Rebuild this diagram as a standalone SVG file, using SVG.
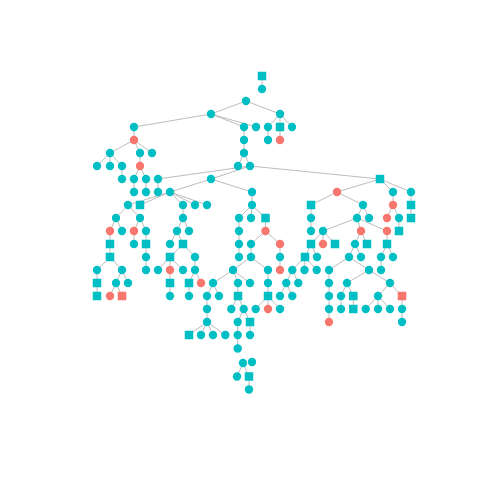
<svg xmlns="http://www.w3.org/2000/svg" xmlns:xlink="http://www.w3.org/1999/xlink" width="480" height="480" viewBox="0 0 480 480">
<defs>
<style>
.e line{stroke:#BDBDBD;stroke-width:1;fill:none}
.t{fill:#00BFC4}
.r{fill:#F8766D}
</style>
<circle id="c" r="4.2"/>
<rect id="s" x="-4.25" y="-4.25" width="8.5" height="8.5"/>
</defs>
<rect width="480" height="480" fill="#FFFFFF"/>
<g id="edges" class="e">
<line x1="262" y1="76" x2="262" y2="89"/>
<line x1="246" y1="101" x2="211" y2="114"/><line x1="246" y1="101" x2="280" y2="114"/>
<line x1="211" y1="114" x2="134" y2="127"/><line x1="211" y1="114" x2="244" y2="127"/><line x1="211" y1="114" x2="256" y2="127"/>
<line x1="280" y1="114" x2="268" y2="127"/><line x1="280" y1="114" x2="280" y2="127"/><line x1="280" y1="114" x2="292" y2="127"/>
<line x1="134" y1="127" x2="134" y2="140"/><line x1="244" y1="127" x2="244" y2="140"/><line x1="268" y1="127" x2="268" y2="140"/><line x1="280" y1="127" x2="280" y2="140"/>
<line x1="134" y1="140" x2="110" y2="153"/><line x1="134" y1="140" x2="140" y2="153"/><line x1="134" y1="140" x2="152" y2="153"/>
<line x1="244" y1="140" x2="244" y2="153"/>
<line x1="110" y1="153" x2="97" y2="166"/><line x1="110" y1="153" x2="110" y2="166"/><line x1="110" y1="153" x2="122" y2="166"/>
<line x1="140" y1="153" x2="140" y2="166"/>
<line x1="244" y1="153" x2="238" y2="166"/><line x1="244" y1="153" x2="250" y2="166"/>
<line x1="122" y1="166" x2="122" y2="179"/>
<line x1="140" y1="166" x2="134" y2="179"/><line x1="140" y1="166" x2="146" y2="179"/>
<line x1="250" y1="166" x2="158" y2="179"/><line x1="250" y1="166" x2="211" y2="179"/><line x1="250" y1="166" x2="380" y2="179"/>
<line x1="134" y1="179" x2="134" y2="192"/><line x1="146" y1="179" x2="146" y2="192"/><line x1="158" y1="179" x2="158" y2="192"/>
<line x1="211" y1="179" x2="170" y2="192"/><line x1="211" y1="179" x2="252" y2="192"/>
<line x1="380" y1="179" x2="337" y2="192"/><line x1="380" y1="179" x2="393" y2="192"/><line x1="380" y1="179" x2="411" y2="192"/>
<line x1="170" y1="192" x2="128" y2="205"/><line x1="170" y1="192" x2="140" y2="205"/><line x1="170" y1="192" x2="183" y2="205"/><line x1="170" y1="192" x2="195" y2="205"/><line x1="170" y1="192" x2="207" y2="205"/>
<line x1="252" y1="192" x2="252" y2="205"/>
<line x1="337" y1="192" x2="311" y2="205"/><line x1="337" y1="192" x2="363" y2="205"/>
<line x1="393" y1="192" x2="393" y2="205"/><line x1="411" y1="192" x2="411" y2="205"/>
<line x1="128" y1="205" x2="116" y2="218"/><line x1="128" y1="205" x2="140" y2="218"/>
<line x1="183" y1="205" x2="183" y2="218"/>
<line x1="252" y1="205" x2="239" y2="218"/><line x1="252" y1="205" x2="251" y2="218"/><line x1="252" y1="205" x2="265.5" y2="218"/>
<line x1="311" y1="205" x2="311" y2="218"/>
<line x1="363" y1="205" x2="357" y2="218"/><line x1="363" y1="205" x2="369" y2="218"/>
<line x1="393" y1="205" x2="387" y2="218"/><line x1="393" y1="205" x2="399" y2="218"/>
<line x1="411" y1="205" x2="411" y2="218"/>
<line x1="116" y1="218" x2="110" y2="231"/><line x1="116" y1="218" x2="122" y2="231"/>
<line x1="140" y1="218" x2="134" y2="231"/><line x1="140" y1="218" x2="146" y2="231"/>
<line x1="183" y1="218" x2="177" y2="231"/><line x1="183" y1="218" x2="189" y2="231"/>
<line x1="239" y1="218" x2="239" y2="231"/><line x1="265.5" y1="218" x2="265.5" y2="231"/><line x1="311" y1="218" x2="311" y2="231"/>
<line x1="357" y1="218" x2="323" y2="231"/><line x1="357" y1="218" x2="361" y2="231"/><line x1="357" y1="218" x2="387" y2="231"/>
<line x1="399" y1="218" x2="399" y2="231"/>
<line x1="110" y1="231" x2="110" y2="244"/><line x1="134" y1="231" x2="134" y2="244"/><line x1="146" y1="231" x2="146" y2="244"/>
<line x1="177" y1="231" x2="170" y2="244"/><line x1="177" y1="231" x2="183" y2="244"/>
<line x1="239" y1="231" x2="239" y2="244"/>
<line x1="265.5" y1="231" x2="251" y2="244"/><line x1="265.5" y1="231" x2="280" y2="244"/>
<line x1="323" y1="231" x2="311" y2="244"/><line x1="323" y1="231" x2="323" y2="244"/><line x1="323" y1="231" x2="335" y2="244"/>
<line x1="361" y1="231" x2="355" y2="244"/><line x1="361" y1="231" x2="367" y2="244"/>
<line x1="387" y1="231" x2="387" y2="244"/>
<line x1="110" y1="244" x2="110" y2="257"/><line x1="146" y1="244" x2="146" y2="257"/>
<line x1="183" y1="244" x2="170" y2="257"/><line x1="183" y1="244" x2="195" y2="257"/>
<line x1="239" y1="244" x2="239" y2="257"/><line x1="251" y1="244" x2="251" y2="257"/><line x1="280" y1="244" x2="280" y2="257"/>
<line x1="311" y1="244" x2="305" y2="257"/><line x1="311" y1="244" x2="317" y2="257"/>
<line x1="355" y1="244" x2="349" y2="257"/><line x1="355" y1="244" x2="361" y2="257"/>
<line x1="387" y1="244" x2="381" y2="257"/><line x1="387" y1="244" x2="393" y2="257"/>
<line x1="110" y1="257" x2="97" y2="270"/><line x1="110" y1="257" x2="122" y2="270"/>
<line x1="146" y1="257" x2="146" y2="270"/>
<line x1="170" y1="257" x2="158" y2="270"/><line x1="170" y1="257" x2="170" y2="270"/><line x1="170" y1="257" x2="183" y2="270"/>
<line x1="195" y1="257" x2="195" y2="270"/>
<line x1="251" y1="257" x2="233" y2="270"/><line x1="251" y1="257" x2="268" y2="270"/>
<line x1="280" y1="257" x2="280" y2="270"/>
<line x1="305" y1="257" x2="292.3" y2="270"/><line x1="305" y1="257" x2="304.5" y2="270"/><line x1="305" y1="257" x2="316.7" y2="270"/>
<line x1="349" y1="257" x2="329" y2="270"/><line x1="349" y1="257" x2="369" y2="270"/>
<line x1="381" y1="257" x2="381" y2="270"/>
<line x1="97" y1="270" x2="97" y2="283"/>
<line x1="122" y1="270" x2="116" y2="283"/><line x1="122" y1="270" x2="128" y2="283"/>
<line x1="170" y1="270" x2="170" y2="283"/>
<line x1="195" y1="270" x2="189" y2="283"/><line x1="195" y1="270" x2="201" y2="283"/>
<line x1="233" y1="270" x2="213" y2="283"/><line x1="233" y1="270" x2="238" y2="283"/><line x1="233" y1="270" x2="250" y2="283"/>
<line x1="268" y1="270" x2="268" y2="283"/>
<line x1="292.3" y1="270" x2="286.3" y2="283"/><line x1="292.3" y1="270" x2="298.3" y2="283"/>
<line x1="329" y1="270" x2="329" y2="283"/>
<line x1="369" y1="270" x2="347" y2="283"/><line x1="369" y1="270" x2="390" y2="283"/>
<line x1="97" y1="283" x2="97" y2="296"/>
<line x1="116" y1="283" x2="110" y2="296"/><line x1="116" y1="283" x2="122" y2="296"/>
<line x1="170" y1="283" x2="170" y2="296"/><line x1="189" y1="283" x2="189" y2="296"/>
<line x1="213" y1="283" x2="207" y2="296"/><line x1="213" y1="283" x2="219" y2="296"/>
<line x1="238" y1="283" x2="238" y2="296"/><line x1="268" y1="283" x2="268" y2="296"/>
<line x1="286.3" y1="283" x2="280" y2="296"/><line x1="286.3" y1="283" x2="292.3" y2="296"/>
<line x1="329" y1="283" x2="329" y2="296"/>
<line x1="347" y1="283" x2="341" y2="296"/><line x1="347" y1="283" x2="353.3" y2="296"/>
<line x1="390" y1="283" x2="378" y2="296"/><line x1="390" y1="283" x2="402" y2="296"/>
<line x1="207" y1="296" x2="207" y2="309"/>
<line x1="238" y1="296" x2="231.3" y2="309"/><line x1="238" y1="296" x2="243.7" y2="309"/>
<line x1="268" y1="296" x2="255.7" y2="309"/><line x1="268" y1="296" x2="268" y2="309"/><line x1="268" y1="296" x2="280" y2="309"/>
<line x1="329" y1="296" x2="329" y2="309"/><line x1="341" y1="296" x2="341" y2="309"/><line x1="353.3" y1="296" x2="353.3" y2="309"/>
<line x1="378" y1="296" x2="365.7" y2="309"/><line x1="378" y1="296" x2="378" y2="309"/><line x1="378" y1="296" x2="390" y2="309"/>
<line x1="402" y1="296" x2="402" y2="309"/>
<line x1="207" y1="309" x2="207" y2="322"/>
<line x1="243.7" y1="309" x2="237.7" y2="322"/><line x1="243.7" y1="309" x2="250" y2="322"/>
<line x1="329" y1="309" x2="329" y2="322"/><line x1="402" y1="309" x2="402" y2="322"/>
<line x1="207" y1="322" x2="189" y2="335"/><line x1="207" y1="322" x2="201" y2="335"/><line x1="207" y1="322" x2="213" y2="335"/><line x1="207" y1="322" x2="225.3" y2="335"/>
<line x1="237.7" y1="322" x2="237.7" y2="335"/><line x1="250" y1="322" x2="250" y2="335"/>
<line x1="237.7" y1="335" x2="237.7" y2="348.5"/>
<line x1="243" y1="363" x2="237" y2="376.5"/><line x1="243" y1="363" x2="249" y2="376.5"/><line x1="249" y1="376.5" x2="249" y2="389.5"/>
</g>
<g id="n1"><use href="#s" x="262" y="76" class="t"/></g>
<g id="n2"><use href="#c" x="262" y="89" class="t"/></g>
<g id="n3"><use href="#c" x="246" y="101" class="t"/></g>
<g id="n4"><use href="#c" x="211" y="114" class="t"/></g>
<g id="n5"><use href="#c" x="280" y="114" class="t"/></g>
<g id="n6"><use href="#c" x="134" y="127" class="t"/></g>
<g id="n7"><use href="#c" x="244" y="127" class="t"/></g>
<g id="n8"><use href="#c" x="256" y="127" class="t"/></g>
<g id="n9"><use href="#c" x="268" y="127" class="t"/></g>
<g id="n10"><use href="#s" x="280" y="127" class="t"/></g>
<g id="n11"><use href="#c" x="292" y="127" class="t"/></g>
<g id="n12"><use href="#c" x="134" y="140" class="r"/></g>
<g id="n13"><use href="#c" x="244" y="140" class="t"/></g>
<g id="n14"><use href="#c" x="268" y="140" class="t"/></g>
<g id="n15"><use href="#c" x="280" y="140" class="r"/></g>
<g id="n16"><use href="#c" x="110" y="153" class="t"/></g>
<g id="n17"><use href="#c" x="140" y="153" class="t"/></g>
<g id="n18"><use href="#c" x="152" y="153" class="t"/></g>
<g id="n19"><use href="#c" x="244" y="153" class="t"/></g>
<g id="n20"><use href="#c" x="97" y="166" class="t"/></g>
<g id="n21"><use href="#c" x="110" y="166" class="t"/></g>
<g id="n22"><use href="#c" x="122" y="166" class="t"/></g>
<g id="n23"><use href="#c" x="140" y="166" class="r"/></g>
<g id="n24"><use href="#c" x="238" y="166" class="t"/></g>
<g id="n25"><use href="#c" x="250" y="166" class="t"/></g>
<g id="n26"><use href="#c" x="122" y="179" class="t"/></g>
<g id="n27"><use href="#c" x="134" y="179" class="t"/></g>
<g id="n28"><use href="#c" x="146" y="179" class="t"/></g>
<g id="n29"><use href="#c" x="158" y="179" class="t"/></g>
<g id="n30"><use href="#c" x="211" y="179" class="t"/></g>
<g id="n31"><use href="#s" x="380" y="179" class="t"/></g>
<g id="n32"><use href="#c" x="134" y="192" class="t"/></g>
<g id="n33"><use href="#c" x="146" y="192" class="t"/></g>
<g id="n34"><use href="#c" x="158" y="192" class="t"/></g>
<g id="n35"><use href="#c" x="170" y="192" class="t"/></g>
<g id="n36"><use href="#c" x="252" y="192" class="t"/></g>
<g id="n37"><use href="#c" x="337" y="192" class="r"/></g>
<g id="n38"><use href="#c" x="393" y="192" class="t"/></g>
<g id="n39"><use href="#c" x="411" y="192" class="t"/></g>
<g id="n40"><use href="#c" x="128" y="205" class="t"/></g>
<g id="n41"><use href="#s" x="140" y="205" class="t"/></g>
<g id="n42"><use href="#c" x="183" y="205" class="t"/></g>
<g id="n43"><use href="#c" x="195" y="205" class="t"/></g>
<g id="n44"><use href="#c" x="207" y="205" class="t"/></g>
<g id="n45"><use href="#c" x="252" y="205" class="t"/></g>
<g id="n46"><use href="#s" x="311" y="205" class="t"/></g>
<g id="n47"><use href="#c" x="363" y="205" class="t"/></g>
<g id="n48"><use href="#c" x="393" y="205" class="r"/></g>
<g id="n49"><use href="#s" x="411" y="205" class="t"/></g>
<g id="n50"><use href="#c" x="116" y="218" class="t"/></g>
<g id="n51"><use href="#c" x="140" y="218" class="t"/></g>
<g id="n52"><use href="#c" x="183" y="218" class="t"/></g>
<g id="n53"><use href="#c" x="239" y="218" class="t"/></g>
<g id="n54"><use href="#c" x="251" y="218" class="t"/></g>
<g id="n55"><use href="#s" x="265.5" y="218" class="t"/></g>
<g id="n56"><use href="#c" x="311" y="218" class="t"/></g>
<g id="n57"><use href="#c" x="357" y="218" class="t"/></g>
<g id="n58"><use href="#c" x="369" y="218" class="t"/></g>
<g id="n59"><use href="#c" x="387" y="218" class="r"/></g>
<g id="n60"><use href="#c" x="399" y="218" class="t"/></g>
<g id="n61"><use href="#s" x="411" y="218" class="t"/></g>
<g id="n62"><use href="#c" x="110" y="231" class="r"/></g>
<g id="n63"><use href="#c" x="122" y="231" class="t"/></g>
<g id="n64"><use href="#c" x="134" y="231" class="r"/></g>
<g id="n65"><use href="#c" x="146" y="231" class="t"/></g>
<g id="n66"><use href="#c" x="177" y="231" class="t"/></g>
<g id="n67"><use href="#c" x="189" y="231" class="t"/></g>
<g id="n68"><use href="#c" x="239" y="231" class="t"/></g>
<g id="n69"><use href="#c" x="265.5" y="231" class="r"/></g>
<g id="n70"><use href="#c" x="311" y="231" class="t"/></g>
<g id="n71"><use href="#c" x="323" y="231" class="t"/></g>
<g id="n72"><use href="#c" x="361" y="231" class="r"/></g>
<g id="n73"><use href="#c" x="387" y="231" class="r"/></g>
<g id="n74"><use href="#s" x="399" y="231" class="t"/></g>
<g id="n75"><use href="#s" x="110" y="244" class="t"/></g>
<g id="n76"><use href="#c" x="134" y="244" class="t"/></g>
<g id="n77"><use href="#s" x="146" y="244" class="t"/></g>
<g id="n78"><use href="#c" x="170" y="244" class="t"/></g>
<g id="n79"><use href="#s" x="183" y="244" class="t"/></g>
<g id="n80"><use href="#c" x="239" y="244" class="t"/></g>
<g id="n81"><use href="#c" x="251" y="244" class="t"/></g>
<g id="n82"><use href="#c" x="280" y="244" class="r"/></g>
<g id="n83"><use href="#s" x="311" y="244" class="t"/></g>
<g id="n84"><use href="#c" x="323" y="244" class="r"/></g>
<g id="n85"><use href="#s" x="335" y="244" class="t"/></g>
<g id="n86"><use href="#c" x="355" y="244" class="t"/></g>
<g id="n87"><use href="#s" x="367" y="244" class="t"/></g>
<g id="n88"><use href="#s" x="387" y="244" class="t"/></g>
<g id="n89"><use href="#s" x="110" y="257" class="t"/></g>
<g id="n90"><use href="#c" x="146" y="257" class="t"/></g>
<g id="n91"><use href="#s" x="170" y="257" class="t"/></g>
<g id="n92"><use href="#c" x="195" y="257" class="t"/></g>
<g id="n93"><use href="#c" x="239" y="257" class="t"/></g>
<g id="n94"><use href="#c" x="251" y="257" class="t"/></g>
<g id="n95"><use href="#c" x="280" y="257" class="t"/></g>
<g id="n96"><use href="#s" x="305" y="257" class="t"/></g>
<g id="n97"><use href="#c" x="317" y="257" class="t"/></g>
<g id="n98"><use href="#c" x="349" y="257" class="t"/></g>
<g id="n99"><use href="#c" x="361" y="257" class="t"/></g>
<g id="n100"><use href="#c" x="381" y="257" class="t"/></g>
<g id="n101"><use href="#c" x="393" y="257" class="t"/></g>
<g id="n102"><use href="#c" x="97" y="270" class="t"/></g>
<g id="n103"><use href="#c" x="122" y="270" class="t"/></g>
<g id="n104"><use href="#c" x="146" y="270" class="t"/></g>
<g id="n105"><use href="#c" x="158" y="270" class="t"/></g>
<g id="n106"><use href="#c" x="170" y="270" class="r"/></g>
<g id="n107"><use href="#c" x="183" y="270" class="t"/></g>
<g id="n108"><use href="#c" x="195" y="270" class="t"/></g>
<g id="n109"><use href="#c" x="233" y="270" class="t"/></g>
<g id="n110"><use href="#c" x="268" y="270" class="t"/></g>
<g id="n111"><use href="#c" x="280" y="270" class="r"/></g>
<g id="n112"><use href="#c" x="292.3" y="270" class="t"/></g>
<g id="n113"><use href="#c" x="304.5" y="270" class="t"/></g>
<g id="n114"><use href="#c" x="316.7" y="270" class="t"/></g>
<g id="n115"><use href="#c" x="329" y="270" class="t"/></g>
<g id="n116"><use href="#c" x="369" y="270" class="t"/></g>
<g id="n117"><use href="#c" x="381" y="270" class="t"/></g>
<g id="n118"><use href="#s" x="97" y="283" class="t"/></g>
<g id="n119"><use href="#c" x="116" y="283" class="t"/></g>
<g id="n120"><use href="#c" x="128" y="283" class="t"/></g>
<g id="n121"><use href="#s" x="170" y="283" class="t"/></g>
<g id="n122"><use href="#s" x="189" y="283" class="t"/></g>
<g id="n123"><use href="#c" x="201" y="283" class="r"/></g>
<g id="n124"><use href="#c" x="213" y="283" class="t"/></g>
<g id="n125"><use href="#c" x="238" y="283" class="t"/></g>
<g id="n126"><use href="#c" x="250" y="283" class="t"/></g>
<g id="n127"><use href="#c" x="268" y="283" class="t"/></g>
<g id="n128"><use href="#c" x="286.3" y="283" class="t"/></g>
<g id="n129"><use href="#c" x="298.3" y="283" class="t"/></g>
<g id="n130"><use href="#c" x="329" y="283" class="t"/></g>
<g id="n131"><use href="#c" x="347" y="283" class="t"/></g>
<g id="n132"><use href="#c" x="390" y="283" class="t"/></g>
<g id="n133"><use href="#s" x="97" y="296" class="t"/></g>
<g id="n134"><use href="#c" x="110" y="296" class="r"/></g>
<g id="n135"><use href="#s" x="122" y="296" class="r"/></g>
<g id="n136"><use href="#c" x="170" y="296" class="t"/></g>
<g id="n137"><use href="#c" x="189" y="296" class="t"/></g>
<g id="n138"><use href="#c" x="207" y="296" class="t"/></g>
<g id="n139"><use href="#c" x="219" y="296" class="t"/></g>
<g id="n140"><use href="#s" x="238" y="296" class="t"/></g>
<g id="n141"><use href="#s" x="268" y="296" class="t"/></g>
<g id="n142"><use href="#c" x="280" y="296" class="t"/></g>
<g id="n143"><use href="#c" x="292.3" y="296" class="t"/></g>
<g id="n144"><use href="#c" x="329" y="296" class="t"/></g>
<g id="n145"><use href="#c" x="341" y="296" class="t"/></g>
<g id="n146"><use href="#s" x="353.3" y="296" class="t"/></g>
<g id="n147"><use href="#c" x="378" y="296" class="t"/></g>
<g id="n148"><use href="#s" x="402" y="296" class="r"/></g>
<g id="n149"><use href="#c" x="207" y="309" class="t"/></g>
<g id="n150"><use href="#c" x="231.3" y="309" class="t"/></g>
<g id="n151"><use href="#c" x="243.7" y="309" class="t"/></g>
<g id="n152"><use href="#c" x="255.7" y="309" class="t"/></g>
<g id="n153"><use href="#c" x="268" y="309" class="r"/></g>
<g id="n154"><use href="#c" x="280" y="309" class="t"/></g>
<g id="n155"><use href="#c" x="329" y="309" class="t"/></g>
<g id="n156"><use href="#c" x="341" y="309" class="t"/></g>
<g id="n157"><use href="#s" x="353.3" y="309" class="t"/></g>
<g id="n158"><use href="#c" x="365.7" y="309" class="t"/></g>
<g id="n159"><use href="#c" x="378" y="309" class="t"/></g>
<g id="n160"><use href="#c" x="390" y="309" class="t"/></g>
<g id="n161"><use href="#c" x="402" y="309" class="t"/></g>
<g id="n162"><use href="#c" x="207" y="322" class="t"/></g>
<g id="n163"><use href="#c" x="237.7" y="322" class="t"/></g>
<g id="n164"><use href="#s" x="250" y="322" class="t"/></g>
<g id="n165"><use href="#c" x="329" y="322" class="r"/></g>
<g id="n166"><use href="#c" x="402" y="322" class="t"/></g>
<g id="n167"><use href="#s" x="189" y="335" class="t"/></g>
<g id="n168"><use href="#c" x="201" y="335" class="t"/></g>
<g id="n169"><use href="#c" x="213" y="335" class="t"/></g>
<g id="n170"><use href="#c" x="225.3" y="335" class="t"/></g>
<g id="n171"><use href="#c" x="237.7" y="335" class="t"/></g>
<g id="n172"><use href="#c" x="250" y="335" class="t"/></g>
<g id="n173"><use href="#c" x="237.7" y="348.5" class="t"/></g>
<g id="n174"><use href="#c" x="243" y="363" class="t"/></g>
<g id="n175"><use href="#c" x="252" y="362" class="t"/></g>
<g id="n176"><use href="#c" x="237" y="376.5" class="t"/></g>
<g id="n177"><use href="#s" x="249" y="376.5" class="t"/></g>
<g id="n178"><use href="#c" x="249" y="389.5" class="t"/></g>
</svg>
